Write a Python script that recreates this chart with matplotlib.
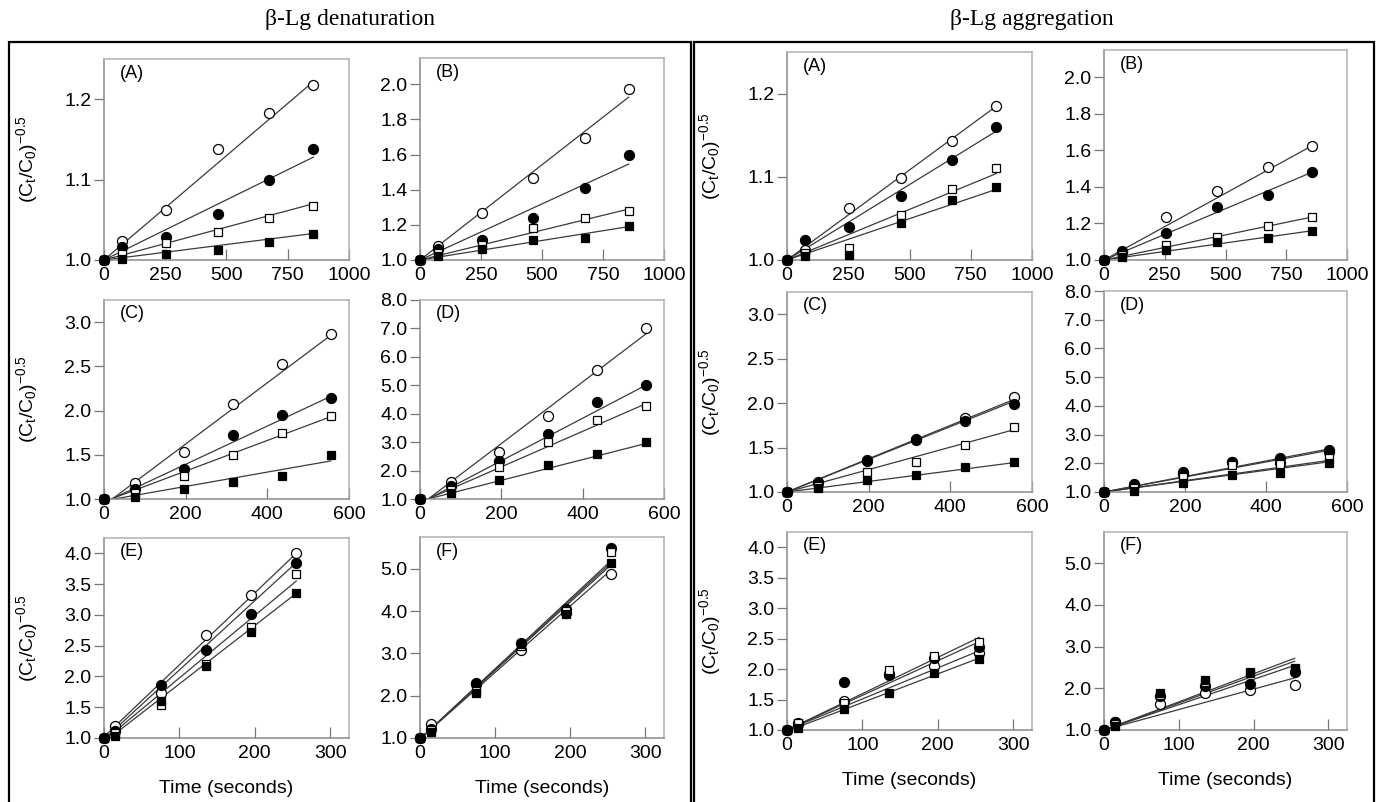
import matplotlib.pyplot as plt
from matplotlib.patches import Rectangle
from matplotlib.ticker import FormatStrFormatter

plt.rcParams['font.family'] = ['Liberation Sans', 'DejaVu Sans']
plt.rcParams['mathtext.fontset'] = 'custom'
plt.rcParams['mathtext.rm'] = 'Liberation Sans'
plt.rcParams['mathtext.it'] = 'Liberation Sans:italic'

# time points (s)
t_AB = [0, 75, 255, 465, 675, 855]
t_CD = [0, 75, 195, 315, 435, 555]
t_EF = [0, 15, 75, 135, 195, 255]

# series order: open circle, filled circle, open square, filled square
# ---- beta-Lg denaturation ----
den_A = [[1.0, 1.024, 1.062, 1.138, 1.183, 1.218],
         [1.0, 1.016, 1.029, 1.057, 1.099, 1.138],
         [1.0, 1.008, 1.021, 1.035, 1.052, 1.067],
         [1.0, 1.001, 1.008, 1.013, 1.023, 1.032]]
den_A_fit0 = [1.0, 1.0, 1.0, 1.0]
den_A_fit1 = [1.222, 1.128, 1.070, 1.033]

den_B = [[1.0, 1.077, 1.27, 1.469, 1.695, 1.975],
         [1.0, 1.062, 1.112, 1.241, 1.411, 1.600],
         [1.0, 1.039, 1.087, 1.183, 1.241, 1.280],
         [1.0, 1.020, 1.062, 1.112, 1.125, 1.195]]
den_B_fit0 = [1.0, 1.0, 1.0, 1.0]
den_B_fit1 = [1.927, 1.546, 1.29, 1.19]

den_C = [[1.0, 1.18, 1.53, 2.07, 2.53, 2.87],
         [1.0, 1.11, 1.34, 1.72, 1.955, 2.14],
         [1.0, 1.07, 1.26, 1.50, 1.75, 1.936],
         [1.0, 1.02, 1.11, 1.19, 1.26, 1.50]]
den_C_fit0 = [0.93, 0.96, 0.97, 0.98]
den_C_fit1 = [2.85, 2.16, 1.93, 1.43]

den_D = [[1.0, 1.60, 2.67, 3.93, 5.53, 7.01],
         [1.0, 1.44, 2.35, 3.28, 4.40, 5.00],
         [1.0, 1.33, 2.12, 3.02, 3.78, 4.28],
         [1.0, 1.21, 1.68, 2.18, 2.59, 3.00]]
den_D_fit0 = [0.78, 0.85, 0.88, 0.93]
den_D_fit1 = [6.80, 5.00, 4.35, 2.95]

den_E = [[1.0, 1.20, 1.73, 2.68, 3.33, 4.00],
         [1.0, 1.11, 1.86, 2.43, 3.01, 3.84],
         [1.0, 1.08, 1.54, 2.21, 2.81, 3.67],
         [1.0, 1.04, 1.60, 2.17, 2.72, 3.35]]
den_E_fit0 = [1.02, 0.98, 0.96, 0.93]
den_E_fit1 = [4.00, 3.85, 3.55, 3.35]

den_F = [[1.0, 1.34, 2.27, 3.08, 3.95, 4.87],
         [1.0, 1.21, 2.31, 3.25, 4.06, 5.50],
         [1.0, 1.20, 2.11, 3.18, 3.99, 5.40],
         [1.0, 1.14, 2.06, 3.22, 3.94, 5.14]]
den_F_fit0 = [0.98, 0.98, 0.98, 0.98]
den_F_fit1 = [4.98, 5.20, 5.15, 5.10]

# ---- beta-Lg aggregation ----
agg_A = [[1.0, 1.012, 1.063, 1.099, 1.143, 1.185],
         [1.0, 1.024, 1.040, 1.077, 1.120, 1.160],
         [1.0, 1.008, 1.015, 1.054, 1.085, 1.110],
         [1.0, 1.005, 1.006, 1.044, 1.072, 1.088]]
agg_A_fit0 = [1.0, 1.0, 1.0, 1.0]
agg_A_fit1 = [1.185, 1.155, 1.104, 1.085]

agg_B = [[1.0, 1.044, 1.235, 1.379, 1.507, 1.625],
         [1.0, 1.048, 1.147, 1.291, 1.358, 1.484],
         [1.0, 1.029, 1.082, 1.124, 1.187, 1.233],
         [1.0, 1.019, 1.054, 1.101, 1.120, 1.159]]
agg_B_fit0 = [1.0, 1.0, 1.0, 1.0]
agg_B_fit1 = [1.625, 1.48, 1.235, 1.16]

agg_C = [[1.0, 1.11, 1.36, 1.60, 1.83, 2.067],
         [1.0, 1.10, 1.35, 1.58, 1.80, 1.99],
         [1.0, 1.07, 1.22, 1.34, 1.53, 1.73],
         [1.0, 1.045, 1.14, 1.19, 1.28, 1.34]]
agg_C_fit0 = [1.0, 1.0, 1.0, 1.0]
agg_C_fit1 = [2.04, 2.02, 1.70, 1.33]

agg_D = [[1.0, 1.24, 1.61, 2.05, 2.02, 2.38],
         [1.0, 1.28, 1.71, 2.05, 2.20, 2.47],
         [1.0, 1.14, 1.52, 1.94, 1.99, 2.20],
         [1.0, 1.05, 1.32, 1.58, 1.67, 2.00]]
agg_D_fit0 = [1.0, 1.0, 1.0, 1.0]
agg_D_fit1 = [2.50, 2.45, 2.10, 2.05]

agg_E = [[1.0, 1.12, 1.48, 1.92, 2.05, 2.27],
         [1.0, 1.10, 1.79, 1.90, 2.18, 2.37],
         [1.0, 1.11, 1.45, 1.98, 2.22, 2.44],
         [1.0, 1.03, 1.35, 1.61, 1.94, 2.16]]
agg_E_fit0 = [1.0, 1.0, 1.0, 0.98]
agg_E_fit1 = [2.30, 2.52, 2.45, 2.18]

agg_F = [[1.0, 1.18, 1.63, 1.88, 1.96, 2.07],
         [1.0, 1.18, 1.81, 2.05, 2.11, 2.38],
         [1.0, 1.14, 1.83, 2.15, 2.37, 2.49],
         [1.0, 1.10, 1.89, 2.19, 2.39, 2.47]]
agg_F_fit0 = [1.0, 1.0, 1.0, 1.0]
agg_F_fit1 = [2.25, 2.55, 2.65, 2.72]

markers = [('o', 'white', 7.2), ('o', 'black', 7.2), ('s', 'white', 6.2), ('s', 'black', 6.2)]

W, H = 1385, 802
fig = plt.figure(figsize=(W / 100, H / 100), dpi=100)

YLAB = r'(C$_\mathregular{t}$/C$_\mathregular{0}$)$^\mathregular{-0.5}$'


def panel(x0, x1, ytop, ybot, t, data, fit0, fit1, xlim, xticks, ylim, yticks,
          tag, ylabel=None, xlabel=False):
    ax = fig.add_axes([x0 / W, 1 - ybot / H, (x1 - x0) / W, (ybot - ytop) / H])
    for k in range(4):
        ax.plot([0, t[-1]], [fit0[k], fit1[k]], color='#3a3a3a', lw=0.9)
    for k, (m, fc, ms) in enumerate(markers):
        ax.plot(t, data[k], ls='none', marker=m, mfc=fc, mec='black', mew=0.9,
                ms=ms, clip_on=False, zorder=3)
    ax.set_xlim(*xlim)
    ax.set_ylim(*ylim)
    ax.set_xticks(xticks)
    ax.set_yticks(yticks)
    ax.yaxis.set_major_formatter(FormatStrFormatter('%.1f'))
    ax.tick_params(axis='y', direction='out', length=7, width=0.9, color='#777777',
                   labelsize=14, pad=2)
    ax.tick_params(axis='x', direction='in', length=8, width=0.9, color='#777777',
                   labelsize=14, pad=5)
    for side, s in ax.spines.items():
        s.set_color('#8a8a8a' if side in ('left', 'bottom') else '#b0b0b0')
        s.set_linewidth(1.1)
    ax.text(0.065, 0.93, tag, transform=ax.transAxes, fontsize=13, ha='left', va='center')
    if ylabel:
        ax.set_ylabel(ylabel, fontsize=14)
        ax.yaxis.set_label_coords(-0.26, 0.5)
    if xlabel:
        ax.set_xlabel('Time (seconds)', fontsize=14)
        ax.xaxis.set_label_coords(0.5, -0.21)
    return ax


# denaturation (left)
lc = (104, 349)
rc = (420, 664)
panel(*lc, 59, 260, t_AB, den_A, den_A_fit0, den_A_fit1, (0, 1000), [0, 250, 500, 750, 1000],
      (1.0, 1.25), [1.0, 1.1, 1.2], '(A)', YLAB)
panel(*rc, 58, 260, t_AB, den_B, den_B_fit0, den_B_fit1, (0, 1000), [0, 250, 500, 750, 1000],
      (1.0, 2.15), [1.0, 1.2, 1.4, 1.6, 1.8, 2.0], '(B)')
panel(*lc, 300, 499, t_CD, den_C, den_C_fit0, den_C_fit1, (0, 600), [0, 200, 400, 600],
      (1.0, 3.25), [1.0, 1.5, 2.0, 2.5, 3.0], '(C)', YLAB)
panel(*rc, 300, 499, t_CD, den_D, den_D_fit0, den_D_fit1, (0, 600), [0, 200, 400, 600],
      (1.0, 8.0), [1, 2, 3, 4, 5, 6, 7, 8], '(D)')
panel(*lc, 538, 738, t_EF, den_E, den_E_fit0, den_E_fit1, (0, 325), [0, 100, 200, 300],
      (1.0, 4.25), [1.0, 1.5, 2.0, 2.5, 3.0, 3.5, 4.0], '(E)', YLAB, True)
panel(*rc, 537, 738, t_EF, den_F, den_F_fit0, den_F_fit1, (0, 325), [0, 100, 200, 300],
      (1.0, 5.75), [1, 2, 3, 4, 5], '(F)', None, True)

# aggregation (right)
lc2 = (787, 1032)
rc2 = (1104, 1347)
panel(*lc2, 52, 260, t_AB, agg_A, agg_A_fit0, agg_A_fit1, (0, 1000), [0, 250, 500, 750, 1000],
      (1.0, 1.25), [1.0, 1.1, 1.2], '(A)', YLAB)
panel(*rc2, 50, 260, t_AB, agg_B, agg_B_fit0, agg_B_fit1, (0, 1000), [0, 250, 500, 750, 1000],
      (1.0, 2.15), [1.0, 1.2, 1.4, 1.6, 1.8, 2.0], '(B)')
panel(*lc2, 292, 492, t_CD, agg_C, agg_C_fit0, agg_C_fit1, (0, 600), [0, 200, 400, 600],
      (1.0, 3.25), [1.0, 1.5, 2.0, 2.5, 3.0], '(C)', YLAB)
panel(*rc2, 291, 492, t_CD, agg_D, agg_D_fit0, agg_D_fit1, (0, 600), [0, 200, 400, 600],
      (1.0, 8.0), [1, 2, 3, 4, 5, 6, 7, 8], '(D)')
panel(*lc2, 532, 730, t_EF, agg_E, agg_E_fit0, agg_E_fit1, (0, 325), [0, 100, 200, 300],
      (1.0, 4.25), [1.0, 1.5, 2.0, 2.5, 3.0, 3.5, 4.0], '(E)', YLAB, True)
panel(*rc2, 532, 730, t_EF, agg_F, agg_F_fit0, agg_F_fit1, (0, 325), [0, 100, 200, 300],
      (1.0, 5.75), [1, 2, 3, 4, 5], '(F)', None, True)

# outer boxes
for bx0, bx1 in [(9, 690.5), (693.5, 1374)]:
    fig.add_artist(Rectangle((bx0 / W, -0.01), (bx1 - bx0) / W, 1.01 - 42 / H,
                             transform=fig.transFigure, fill=False, lw=1.6, color='black'))

fig.text(350 / W, 1 - 19 / H, 'β-Lg denaturation', family='Liberation Serif', fontsize=17,
         ha='center', va='center')
fig.text(1032 / W, 1 - 19 / H, 'β-Lg aggregation', family='Liberation Serif', fontsize=17,
         ha='center', va='center')

fig.savefig('out.png', dpi=100)
